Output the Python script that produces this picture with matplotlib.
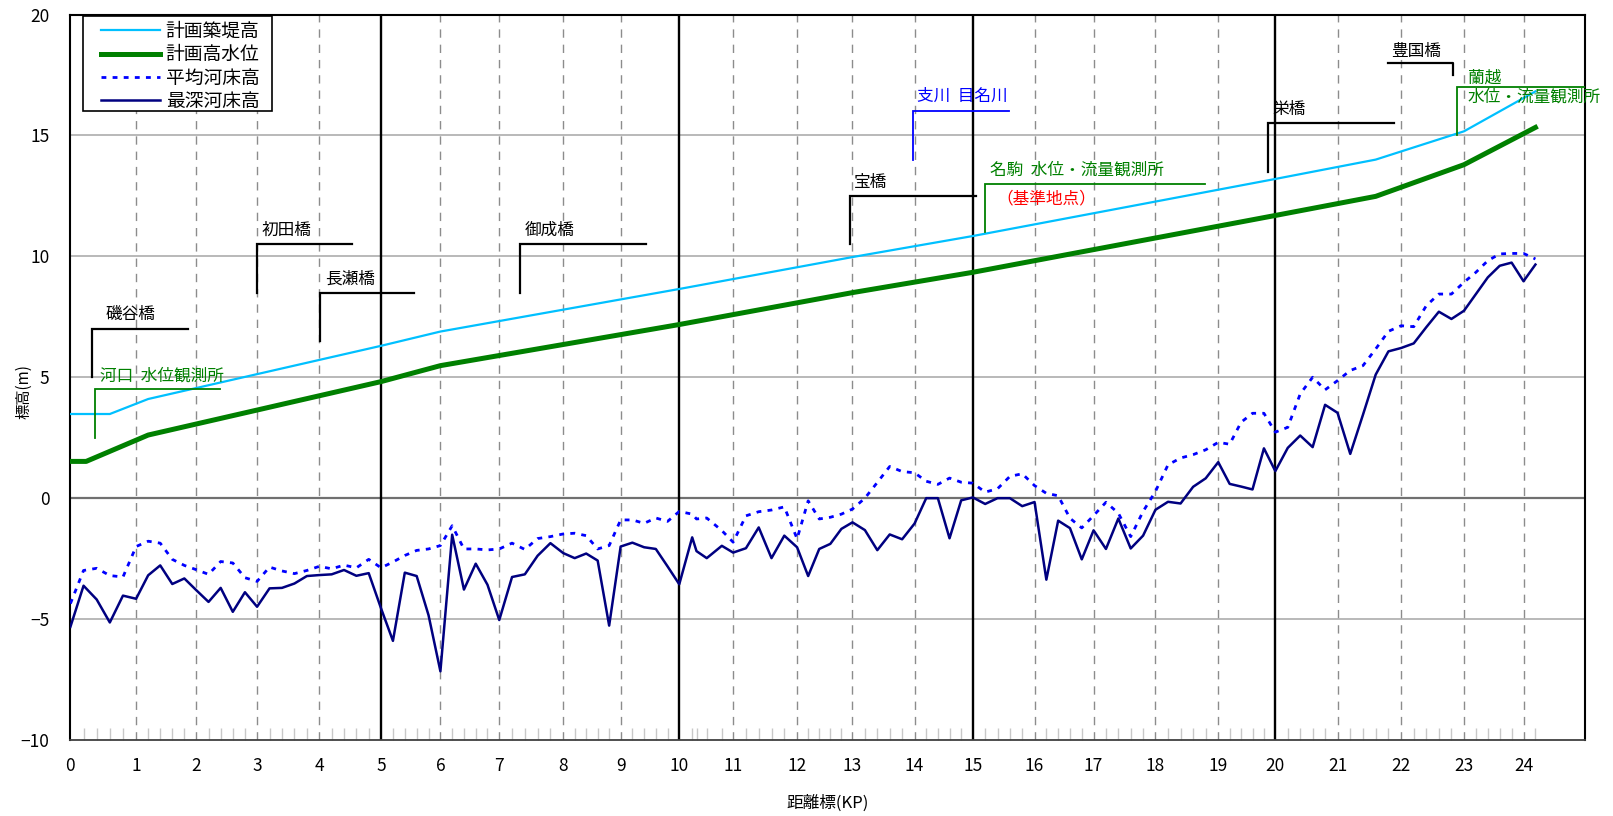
import numpy as np
import matplotlib
matplotlib.use("Agg")
import matplotlib.pyplot as plt
from matplotlib.patches import Rectangle

plt.rcParams['font.family'] = ['Noto Sans CJK JP', 'DejaVu Sans']
plt.rcParams['lines.scale_dashes'] = False

# 距離標(KP) と実距離の対応（距離標の間隔は一定ではない）
kp_ticks = [0, 1, 2, 3, 4, 5, 6, 7, 8, 9, 10, 11, 12, 13, 14, 15, 16, 17, 18, 19, 20,
            21, 22, 23, 24, 25, 26]
kp_dist = [0.0, 1.085, 2.081, 3.083, 4.111, 5.131, 6.111, 7.083, 8.139, 9.088, 10.056,
           10.946, 12.002, 12.917, 13.942, 14.905, 15.924, 16.899, 17.921, 18.958, 19.901,
           20.928, 21.979, 23.017, 24.0, 24.983, 25.966]

# 計画築堤高
levee_kp = [0.0, 0.6, 1.2, 5.0, 6.0, 10.0, 13.0, 15.0, 20.0, 21.6, 23.0, 24.2]
levee = [3.48, 3.48, 4.10, 6.30, 6.89, 8.65, 9.97, 10.84, 13.20, 14.00, 15.17, 16.82]

# 計画高水位
hwl_kp = [0.0, 0.24, 1.2, 5.0, 6.0, 10.0, 13.0, 15.0, 20.0, 21.6, 23.0, 24.2]
hwl = [1.52, 1.52, 2.61, 4.82, 5.48, 7.18, 8.50, 9.34, 11.69, 12.48, 13.79, 15.33]

# 河床高（測線）
bed_kp = [0.0, 0.2, 0.4, 0.6, 0.8, 1.0, 1.2, 1.4, 1.6, 1.8,
          2.0, 2.2, 2.4, 2.6, 2.8, 3.0, 3.2, 3.4, 3.6, 3.8,
          4.0, 4.2, 4.4, 4.6, 4.8, 5.0, 5.2, 5.4, 5.6, 5.8,
          6.0, 6.2, 6.4, 6.6, 6.8, 7.0, 7.2, 7.4, 7.6, 7.8,
          8.0, 8.2, 8.4, 8.6, 8.8, 9.0, 9.2, 9.4, 9.6, 9.8,
          10.0, 10.24, 10.32, 10.51, 10.79,
          11.0, 11.2, 11.4, 11.6, 11.8, 12.0, 12.2, 12.4, 12.6, 12.8,
          13.0, 13.2, 13.4, 13.6, 13.8, 14.0, 14.2, 14.4, 14.6, 14.8,
          15.0, 15.2, 15.4, 15.6, 15.8, 16.0, 16.2, 16.4, 16.6, 16.8,
          17.0, 17.2, 17.4, 17.6, 17.8, 18.0, 18.2, 18.4, 18.6, 18.8,
          19.0, 19.2, 19.4, 19.6, 19.8, 20.0, 20.2, 20.4, 20.6, 20.8,
          21.0, 21.2, 21.4, 21.6, 21.8, 22.0, 22.2, 22.4, 22.6, 22.8,
          23.0, 23.2, 23.4, 23.6, 23.8, 24.0, 24.2]

bed_mean = [-4.36, -2.99, -2.90, -3.20, -3.26, -2.00, -1.78, -1.86, -2.53, -2.78,
            -2.96, -3.15, -2.62, -2.68, -3.29, -3.44, -2.85, -3.01, -3.12, -2.99,
            -2.82, -2.92, -2.77, -2.88, -2.53, -2.88, -2.64, -2.37, -2.16, -2.10,
            -1.96, -1.14, -2.10, -2.10, -2.14, -2.10, -1.86, -2.12, -1.67, -1.59,
            -1.48, -1.45, -1.55, -2.10, -1.96, -0.90, -0.90, -1.04, -0.82, -0.96,
            -0.55, -0.66, -0.86, -0.82, -1.34,
            -1.82, -0.73, -0.56, -0.49, -0.36, -1.68, -0.11, -0.86, -0.79, -0.66,
            -0.45, 0.00, 0.65, 1.31, 1.10, 1.05, 0.70, 0.57, 0.83, 0.66,
            0.62, 0.25, 0.39, 0.90, 1.01, 0.52, 0.20, 0.10, -0.83, -1.23,
            -0.72, -0.17, -0.62, -1.59, -0.55, 0.28, 1.38, 1.66, 1.80, 2.00,
            2.31, 2.23, 3.14, 3.51, 3.51, 2.73, 2.93, 4.31, 5.00, 4.48,
            4.86, 5.28, 5.48, 6.17, 6.90, 7.13, 7.09, 7.96, 8.44, 8.44,
            8.93, 9.34, 9.82, 10.10, 10.12, 10.12, 9.89]

bed_deep = [-5.32, -3.62, -4.19, -5.14, -4.03, -4.16, -3.19, -2.78, -3.55, -3.32,
            -3.81, -4.29, -3.71, -4.70, -3.89, -4.49, -3.73, -3.71, -3.53, -3.22,
            -3.18, -3.15, -2.97, -3.21, -3.10, -4.56, -5.90, -3.08, -3.22, -4.84,
            -7.16, -1.51, -3.78, -2.71, -3.58, -5.04, -3.26, -3.15, -2.38, -1.86,
            -2.27, -2.48, -2.29, -2.58, -5.27, -2.00, -1.84, -2.03, -2.10, -2.82,
            -3.56, -1.62, -2.19, -2.48, -1.97,
            -2.25, -2.07, -1.21, -2.48, -1.55, -2.03, -3.22, -2.10, -1.89, -1.27,
            -1.00, -1.32, -2.15, -1.50, -1.70, -1.05, 0.00, 0.00, -1.66, -0.09,
            0.03, -0.24, 0.00, 0.00, -0.33, -0.16, -3.37, -0.93, -1.24, -2.53,
            -1.33, -2.10, -0.84, -2.08, -1.55, -0.48, -0.15, -0.22, 0.47, 0.82,
            1.49, 0.59, 0.48, 0.36, 2.06, 1.12, 2.08, 2.59, 2.11, 3.86,
            3.53, 1.83, 3.45, 5.11, 6.07, 6.21, 6.40, 7.07, 7.71, 7.41,
            7.75, 8.44, 9.13, 9.61, 9.74, 8.97, 9.66]

# 橋梁・観測所の引出し線: (名称, 縦線KP, 上端, 下端, 横線終点KP, 色, 文字KP, 文字標高)
marks = [
    ('磯谷橋', 0.33, 7.0, 5.0, 1.86, 'black', 0.54, 7.58),
    ('河口  水位観測所', 0.38, 4.5, 2.5, 2.39, '#008000', 0.45, 5.03),
    ('初田橋', 3.00, 10.5, 8.5, 4.53, 'black', 3.07, 11.08),
    ('長瀬橋', 4.01, 8.5, 6.5, 5.55, 'black', 4.09, 9.07),
    ('御成橋', 7.33, 10.5, 8.5, 9.43, 'black', 7.40, 11.08),
    ('宝橋', 12.95, 12.5, 10.5, 15.05, 'black', 13.03, 13.07),
    ('支川  目名川', 13.98, 16.0, 14.0, 15.58, '#0000ff', 14.04, 16.61),
    ('名駒  水位・流量観測所', 15.20, 13.0, 11.0, 18.79, '#008000', 15.28, 13.58),
    ('栄橋', 19.87, 15.5, 13.5, 21.89, 'black', 19.95, 16.09),
    ('蘭越', 22.89, 17.0, 15.0, 25.04, '#008000', 23.06, 17.37),
]


def kp_to_dist(kp):
    return np.interp(kp, kp_ticks, kp_dist)


def dist_to_kp(d):
    return np.interp(d, kp_dist, kp_ticks)


fig = plt.figure(figsize=(16.13, 8.16), dpi=100)
ax = fig.add_axes([0.04365, 0.09314, 0.93925, 0.88909])
ax.set_xscale('function', functions=(kp_to_dist, dist_to_kp))
ax.set_xlim(0, 25.04)
ax.set_ylim(-10, 20)

# 格子線
for y in [-5, 5, 10, 15]:
    ax.axhline(y, color='#a6a6a6', lw=1.1, zorder=1)
ax.axhline(0, color='#707070', lw=1.6, zorder=1)
for k in kp_ticks[1:25]:
    if k % 5 == 0:
        ax.axvline(k, color='black', lw=1.7, zorder=2)
    else:
        ax.axvline(k, color='#8c8c8c', lw=1.0, dashes=(6, 5), zorder=1)

l1, = ax.plot(levee_kp, levee, color='#00c0ff', lw=1.6, zorder=4)
l2, = ax.plot(hwl_kp, hwl, color='#008000', lw=3.6, zorder=4)
l3, = ax.plot(bed_kp, bed_mean, color='#0000ff', lw=2.0, dashes=(3.5, 4.5), zorder=3)
l4, = ax.plot(bed_kp, bed_deep, color='#000080', lw=1.8, zorder=3)

# 引出し線と注記
for name, kx, ytop, ybot, kend, col, tx, ty in marks:
    lw = 1.6 if col == 'black' else 1.3
    ax.plot([kx, kx, kend], [ybot, ytop, ytop], color=col, lw=lw, zorder=5,
            solid_joinstyle='miter')
    ax.text(tx, ty, name, color=col, fontsize=12, va='center', ha='left', zorder=6)

ax.text(15.38, 12.37, '（基準地点）', color='#ff0000', fontsize=12, va='center', ha='left', zorder=6)
ax.text(23.06, 16.57, '水位・流量観測所', color='#008000', fontsize=12, va='center', ha='left', zorder=6)
ax.plot([21.80, 22.82, 22.82], [18.0, 18.0, 17.5], color='black', lw=1.6, zorder=5)
ax.text(21.85, 18.47, '豊国橋', color='black', fontsize=12, va='center', ha='left', zorder=6)

# 軸
ax.set_xticks(kp_ticks[:25])
ax.set_xticklabels([str(k) for k in kp_ticks[:25]])
ax.set_xticks(bed_kp, minor=True)
ax.set_yticks([-10, -5, 0, 5, 10, 15, 20])
ax.tick_params(axis='x', which='major', length=0, pad=12, labelsize=12.5)
ax.tick_params(axis='x', which='minor', direction='in', length=9, width=1.0, color='#c8c8c8')
ax.tick_params(axis='y', length=0, pad=15, labelsize=12.5)

for side in ['left', 'top', 'right']:
    ax.spines[side].set_color('black')
    ax.spines[side].set_linewidth(1.5)
ax.spines['bottom'].set_color('#404040')
ax.spines['bottom'].set_linewidth(1.3)

ax.set_xlabel('距離標(KP)', fontsize=12)
ax.xaxis.set_label_coords(0.5, -0.075)
ax.set_ylabel('標高(m)', fontsize=11)
ax.yaxis.set_label_coords(-0.025, 0.48)

# 凡例（枠は別に描く）
box = Rectangle((0.0085, 0.8674), 0.1244, 0.1306, transform=ax.transAxes,
                facecolor='white', edgecolor='black', lw=1.2, zorder=9)
ax.add_patch(box)
leg = ax.legend([l1, l2, l3, l4], ['計画築堤高', '計画高水位', '平均河床高', '最深河床高'],
                loc='upper left', bbox_to_anchor=(0.0205, 0.991), borderaxespad=0,
                frameon=False, fontsize=13.5,
                handlelength=3.1, handletextpad=0.32, labelspacing=0.12, borderpad=0)
leg.set_zorder(10)

fig.savefig('out.png', dpi=100)
